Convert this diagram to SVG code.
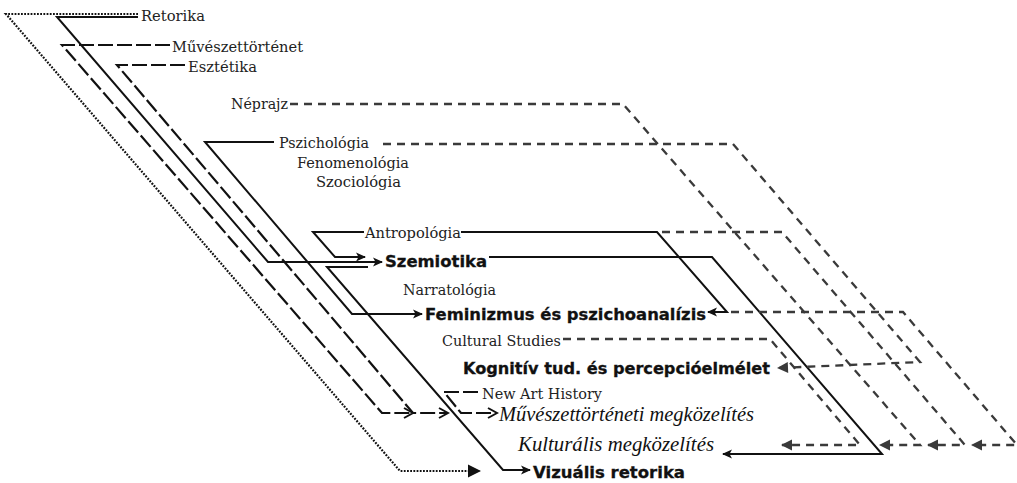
<svg xmlns="http://www.w3.org/2000/svg" width="1017" height="483" viewBox="0 0 1017 483">
<style>
.ln{fill:none;stroke-linejoin:miter;stroke-linecap:butt}
.solid{stroke:#111;stroke-width:2}
.long{stroke:#111;stroke-width:2.2;stroke-dasharray:15 4}
.short{stroke:#3a3a3a;stroke-width:2.3;stroke-dasharray:8 6}
.dot{stroke:#111;stroke-width:2.2;stroke-dasharray:1.8 1.4}
.sr{font-family:"DejaVu Serif","Liberation Serif",serif;font-size:15px;fill:#222}
.bd{font-family:"DejaVu Sans","Liberation Sans",sans-serif;font-size:16px;font-weight:bold;fill:#111;stroke:#111;stroke-width:0.3}
.sc{font-family:"Liberation Serif","DejaVu Serif",serif;font-style:italic;font-size:20px;fill:#111}
</style>
<defs>
<marker id="ahS" viewBox="-12 -6 14 12" refX="0" refY="0" markerWidth="14" markerHeight="12" markerUnits="userSpaceOnUse" orient="auto"><path d="M1,0 L-9,-4.5 L-6.5,0 L-9,4.5 Z" fill="#111"/></marker>
<marker id="ahO" viewBox="-12 -7 14 14" refX="0" refY="0" markerWidth="14" markerHeight="14" markerUnits="userSpaceOnUse" orient="auto"><path d="M-9,-5 L0,0 L-9,5" fill="none" stroke="#111" stroke-width="2"/></marker>
<marker id="ahG" viewBox="-12 -7 14 14" refX="0" refY="0" markerWidth="14" markerHeight="14" markerUnits="userSpaceOnUse" orient="auto"><path d="M1,0 L-10,-5.5 L-10,5.5 Z" fill="#3a3a3a"/></marker>
<marker id="ahD" viewBox="-14 -8 16 16" refX="0" refY="0" markerWidth="16" markerHeight="16" markerUnits="userSpaceOnUse" orient="auto"><path d="M1,0 L-12,-6.5 L-12,6.5 Z" fill="#111"/></marker>
</defs>
<g id="connectors">
<path class="ln dot" d="M138,14 L6,14 L400,471 L480,471" marker-end="url(#ahD)"/>
<path class="ln solid" d="M138,17 L57,17 L268,262 L382,262" marker-end="url(#ahS)"/>
<path class="ln long" d="M170,45 L62,45 L382,413 L413,413" marker-end="url(#ahO)"/>
<path class="ln long" d="M185,65 L117,65 L413,413 L448,413" marker-end="url(#ahO)"/>
<path class="ln long" d="M478,392 L444,392 L461,413 L497,413" marker-end="url(#ahO)"/>
<path class="ln solid" d="M274,142 L205,142 L352,314 L422,314" marker-end="url(#ahS)"/>
<path class="ln solid" d="M364,232 L313,232 L335,257 L365,257" marker-end="url(#ahS)"/>
<path class="ln solid" d="M368,267 L327,267 L503,470 L530,470" marker-end="url(#ahS)"/>
<path class="ln solid" d="M461,232 L657,232 L727,312 L708,312" marker-end="url(#ahS)"/>
<path class="ln solid" d="M489,257 L712,257 L882,454 L723,454" marker-end="url(#ahS)"/>
<path class="ln short" d="M290,104 L623,104 L920,445 L880,445" marker-end="url(#ahG)"/>
<path class="ln short" d="M383,144 L733,144 L920,362 L778,368" marker-end="url(#ahG)"/>
<path class="ln short" d="M662,232 L782,232 L965,445 L928,445" marker-end="url(#ahG)"/>
<path class="ln short" d="M731,312 L903,312 L1017,445 L972,445" marker-end="url(#ahG)"/>
<path class="ln short" d="M563,339 L770,339 L860,445 L782,445" marker-end="url(#ahG)"/>
</g>
<g id="n-retorika"><text class="sr" x="141" y="21" textLength="64" lengthAdjust="spacingAndGlyphs">Retorika</text></g>
<g id="n-muveszettortenet"><text class="sr" x="172" y="52" textLength="131" lengthAdjust="spacingAndGlyphs">Művészettörténet</text></g>
<g id="n-esztetika"><text class="sr" x="188" y="72" textLength="69" lengthAdjust="spacingAndGlyphs">Esztétika</text></g>
<g id="n-neprajz"><text class="sr" x="231" y="109" textLength="57" lengthAdjust="spacingAndGlyphs">Néprajz</text></g>
<g id="n-pszichologia"><text class="sr" x="279" y="148" textLength="90" lengthAdjust="spacingAndGlyphs">Pszichológia</text></g>
<g id="n-fenomenologia"><text class="sr" x="297" y="168" textLength="112" lengthAdjust="spacingAndGlyphs">Fenomenológia</text></g>
<g id="n-szociologia"><text class="sr" x="316" y="187" textLength="85" lengthAdjust="spacingAndGlyphs">Szociológia</text></g>
<g id="n-antropologia"><text class="sr" x="365" y="238" textLength="96" lengthAdjust="spacingAndGlyphs">Antropológia</text></g>
<g id="n-szemiotika"><text class="bd" x="385" y="267" textLength="102" lengthAdjust="spacingAndGlyphs">Szemiotika</text></g>
<g id="n-narratologia"><text class="sr" x="403" y="295" textLength="93" lengthAdjust="spacingAndGlyphs">Narratológia</text></g>
<g id="n-feminizmus"><text class="bd" x="425" y="320" textLength="281" lengthAdjust="spacingAndGlyphs">Feminizmus és pszichoanalízis</text></g>
<g id="n-cultural"><text class="sr" x="442" y="346" textLength="119" lengthAdjust="spacingAndGlyphs">Cultural Studies</text></g>
<g id="n-kognitiv"><text class="bd" x="463" y="374" textLength="307" lengthAdjust="spacingAndGlyphs">Kognitív tud. és percepcióelmélet</text></g>
<g id="n-newart"><text class="sr" x="482" y="399" textLength="120" lengthAdjust="spacingAndGlyphs">New Art History</text></g>
<g id="n-muvmegk"><text class="sc" x="499" y="421" textLength="255" lengthAdjust="spacingAndGlyphs">Művészettörténeti megközelítés</text></g>
<g id="n-kultmegk"><text class="sc" x="518" y="451" textLength="196" lengthAdjust="spacingAndGlyphs">Kulturális megközelítés</text></g>
<g id="n-vizualis"><text class="bd" x="533" y="478" textLength="152" lengthAdjust="spacingAndGlyphs">Vizuális retorika</text></g>
</svg>
